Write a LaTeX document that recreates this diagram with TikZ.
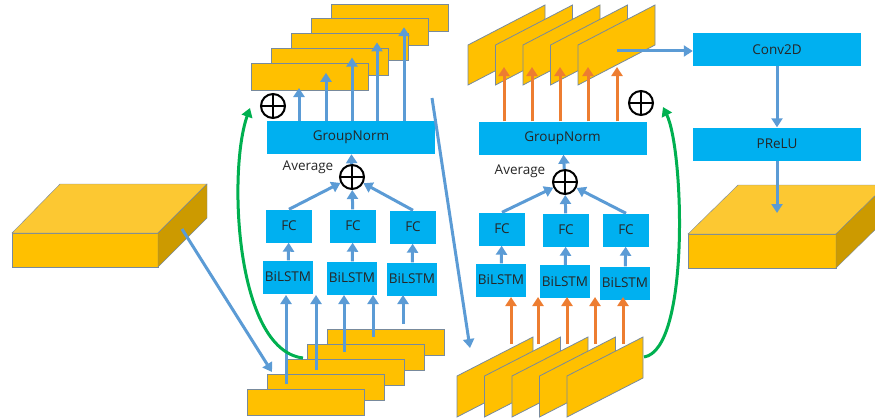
\documentclass[tikz,border=0pt]{standalone}
\usepackage{fontspec}
\setmainfont{Open Sans}
\usepackage{tikz}
\usetikzlibrary{arrows.meta}
\definecolor{boxblue}{RGB}{0,176,240}
\definecolor{arrblue}{RGB}{91,155,213}
\definecolor{arrorange}{RGB}{237,125,49}
\definecolor{arrgreen}{RGB}{0,176,80}
\definecolor{gold}{RGB}{255,192,0}
\definecolor{goldtop}{RGB}{252,200,50}
\definecolor{goldside}{RGB}{204,154,0}
\definecolor{edge}{RGB}{120,138,156}

\begin{document}
\begin{tikzpicture}[x=1pt,y=-1pt,
  blk/.style={fill=boxblue,inner sep=0pt,text=black!85,font=\fontsize{13.5}{15}\selectfont},
  fcbox/.style={blk,minimum width=46pt,minimum height=33pt},
  lstmbox/.style={blk,minimum width=50pt,minimum height=33pt},
  wide/.style={blk,minimum width=168pt,minimum height=33pt},
  lbl/.style={text=black!85,font=\fontsize{13.5}{15}\selectfont},
  barrow/.style={draw=arrblue,line width=3pt,-{Triangle[length=9pt,width=11pt]}},
  oarrow/.style={barrow,draw=arrorange},
  garrow/.style={barrow,draw=arrgreen},
  plus/.style={circle,draw,line width=2pt,minimum size=24pt,inner sep=0pt,
    path picture={\draw[line width=2pt] (path picture bounding box.north) -- (path picture bounding box.south)
      (path picture bounding box.west) -- (path picture bounding box.east);}},
  sheet/.style={fill=gold,draw=edge,line width=0.8pt}]
\useasboundingbox (0,0) rectangle (875,420);

% input block
\filldraw[fill=gold,draw=edge] (12,233) -- (158,233) -- (158,267) -- (12,267) --cycle;
\filldraw[fill=goldtop,draw=edge] (12,233) -- (60,184) -- (207,184) -- (158,233) --cycle;
\filldraw[fill=goldside,draw=edge] (158,233) -- (207,184) -- (207,218) -- (158,267) --cycle;
\coordinate (inp) at (182,229);

% intra chunk: sheets
\foreach \k in {5,4,3,2,1} \filldraw[sheet] ({247+20*(\k-1)},{389-14.8*(\k-1)}) rectangle ++(117,26);
\foreach \k in {5,4,3,2,1} \filldraw[sheet] ({251+20*(\k-1)},{63-14.7*(\k-1)}) rectangle ++(117,27);

% intra chunk: blocks
\node[wide] (gn1) at (351,137.5) {GroupNorm};
\node[plus] (pa1) at (352,177) {};
\node[lbl] (av1) at (308,167) {Average};
\node[plus] (pt1) at (273,106) {};
\node[fcbox] (fa1) at (289,226) {FC};
\node[fcbox] (fa2) at (353,226) {FC};
\node[fcbox] (fa3) at (413,227) {FC};
\node[lstmbox] (la1) at (288,277) {BiLSTM};
\node[lstmbox] (la2) at (352,278) {BiLSTM};
\node[lstmbox] (la3) at (412,279) {BiLSTM};

\foreach \i in {1,2,3} \draw[barrow] (la\i) -- (fa\i);
\draw[barrow] (fa1.north) -- (pa1);
\draw[barrow] (fa2) -- (pa1);
\draw[barrow] (fa3.north) -- (pa1);
\draw[barrow] (pa1) -- (gn1);
\foreach \k/\x in {1/299,2/326,3/352,4/377,5/404} {
  \coordinate (ts\k) at (\x,{88-15.2*(\k-1)});
  \draw[barrow] (gn1.north -| ts\k) -- (ts\k);
}
\foreach \k/\x/\y in {1/286/384,2/316/370,3/344/352,4/373/337,5/403/324} {
  \coordinate (bs\k) at (\x,\y);
  \coordinate (bt\k) at (\x,295);
  \draw[barrow] (bs\k) -- (bt\k);
}
\coordinate (ls2) at (272,372);
\draw[barrow] (inp) -- (ls2);
\coordinate (gs1) at (303,358);
\coordinate (ge1) at (250,108);
\draw[garrow] (gs1) .. controls (235,350) and (228,170) .. (ge1);
\coordinate (jt) at (432,98);
\coordinate (jb) at (470,348);
\draw[barrow] (jt) -- (jb);

% inter chunk: sheets
\foreach \x in {457,484.5,512,539.5,567} \filldraw[sheet] (\x,417) -- (\x,376) -- ++(76,-39) -- ++(0,41) --cycle;
\foreach \x in {468,495.5,523,550.5,578} \filldraw[sheet] (\x,85) -- (\x,45) -- ++(77,-40) -- ++(0,40) --cycle;

% inter chunk: blocks
\node[wide] (gn2) at (562.5,138) {GroupNorm};
\node[plus] (pa2) at (565,182) {};
\node[lbl] (av2) at (520,171) {Average};
\node[plus] (pt2) at (641,103) {};
\node[fcbox] (fb1) at (502,229) {FC};
\node[fcbox] (fb2) at (566,230) {FC};
\node[fcbox] (fb3) at (626,230) {FC};
\node[lstmbox] (lb1) at (501,280) {BiLSTM};
\node[lstmbox] (lb2) at (565,281.5) {BiLSTM};
\node[lstmbox] (lb3) at (625,283) {BiLSTM};

\foreach \i in {1,2,3} \draw[barrow] (lb\i) -- (fb\i);
\draw[barrow] (fb1.north) -- (pa2);
\draw[barrow] (fb2) -- (pa2);
\draw[barrow] (fb3.north) -- (pa2);
\draw[barrow] (pa2) -- (gn2);
\foreach \k/\x in {1/504,2/532,3/560,4/588,5/617} {
  \coordinate (tr\k) at (\x,67);
  \draw[oarrow] (gn2.north -| tr\k) -- (tr\k);
}
\foreach \k/\x in {1/511,2/538,3/567,4/595,5/623} {
  \coordinate (br\k) at (\x,344);
  \coordinate (bu\k) at (\x,297);
  \draw[oarrow] (br\k) -- (bu\k);
}
\coordinate (gs2) at (644,357);
\coordinate (ge2) at (663,107);
\draw[garrow] (gs2) .. controls (690,350) and (684,150) .. (ge2);

% output
\node[wide] (cv) at (777,49.5) {Conv2D};
\node[wide] (pr) at (777,144) {PReLU};
\coordinate (po) at (617,51);
\draw[barrow] (po) -- (po -| cv.west);
\draw[barrow] (cv) -- (pr);
\filldraw[fill=gold,draw=edge] (688,234) -- (836,234) -- (836,268) -- (688,268) --cycle;
\filldraw[fill=goldtop,draw=edge] (688,234) -- (738,185) -- (886,185) -- (836,234) --cycle;
\filldraw[fill=goldside,draw=edge] (836,234) -- (886,185) -- (886,219) -- (836,268) --cycle;
\coordinate (out) at (777,213);
\draw[barrow] (pr) -- (out);
\end{tikzpicture}
\end{document}
